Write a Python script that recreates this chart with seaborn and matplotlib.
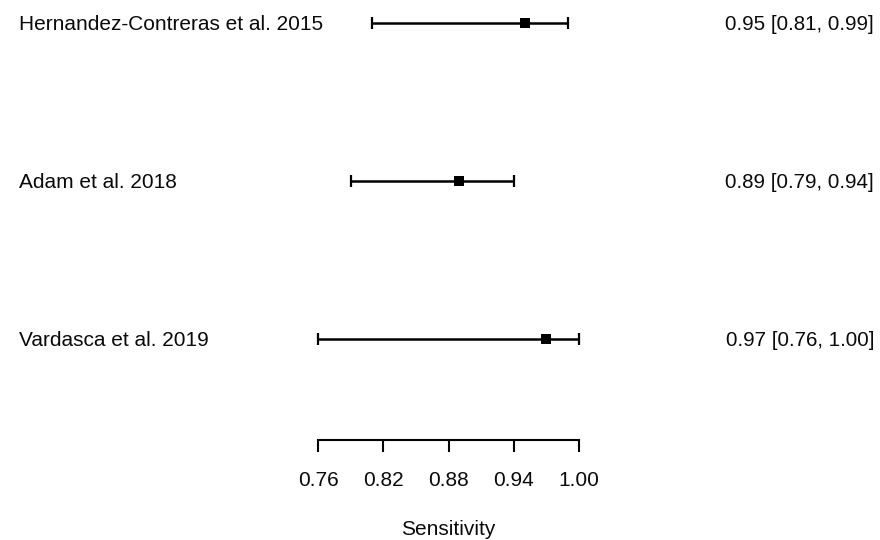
import matplotlib
matplotlib.use("Agg")
import matplotlib.pyplot as plt
import matplotlib.transforms as mtransforms
import seaborn as sns
import pandas as pd

# Study-level sensitivity estimates with 95% confidence intervals
studies = ["Hernandez-Contreras et al. 2015", "Adam et al. 2018", "Vardasca et al. 2019"]
estimate = [0.95, 0.89, 0.97]
ci_low = [0.81, 0.79, 0.76]
ci_high = [0.99, 0.94, 1.00]
x_ticks = [0.76, 0.82, 0.88, 0.94, 1.00]
x_label = "Sensitivity"

sns.set_theme(style="white")
plt.rcParams["font.family"] = ["Liberation Sans", "DejaVu Sans"]
plt.rcParams["text.color"] = "#0a0a0a"

W, H = 880, 540
fig = plt.figure(figsize=(W / 100, H / 100), dpi=100)
fig.patch.set_facecolor("white")

# axes area: x from 0.76 to 1.00, rows stacked top to bottom
x0, x1 = 318, 579
bottom_px = 100
ax = fig.add_axes([x0 / W, bottom_px / H, (x1 - x0) / W, (H - bottom_px) / H])

df = pd.DataFrame({
    "study": studies,
    "est": estimate,
    "lo": ci_low,
    "hi": ci_high,
})
n = len(df)
df["row"] = [n - i for i in range(n)]

ax.errorbar(
    df["est"], df["row"],
    xerr=[df["est"] - df["lo"], df["hi"] - df["est"]],
    fmt="none", ecolor="black", elinewidth=1.8, capsize=4.6, capthick=1.6,
    clip_on=False, zorder=2,
)
sns.scatterplot(
    data=df, x="est", y="row", marker="s", s=62, color="black",
    edgecolor="black", linewidth=0, ax=ax, zorder=3, clip_on=False, legend=False,
)

row_gap = 158.0
ax.set_xlim(0.76, 1.00)
ax.set_ylim(1 - 101 / row_gap, n + 23 / row_gap)
ax.set_yticks([])
ax.set_xticks(x_ticks)
ax.set_xticklabels([f"{t:.2f}" for t in x_ticks], fontsize=15)
ax.tick_params(axis="x", bottom=True, length=8.6, width=1.5, color="black",
               pad=14, labelcolor="#0a0a0a")
ax.set_xlabel(x_label, fontsize=15, labelpad=21, color="#0a0a0a")
ax.set_ylabel("")
for side in ["top", "right", "left"]:
    ax.spines[side].set_visible(False)
ax.spines["bottom"].set_linewidth(1.5)
ax.spines["bottom"].set_color("black")
ax.set_facecolor("white")

# study names on the left, estimate [CI] on the right
trans = mtransforms.blended_transform_factory(fig.transFigure, ax.transData)
for _, r in df.iterrows():
    fig.text(19 / W, r["row"], r["study"], transform=trans, ha="left",
             va="center_baseline", fontsize=15)
    fig.text(874 / W, r["row"], f"{r['est']:.2f} [{r['lo']:.2f}, {r['hi']:.2f}]",
             transform=trans, ha="right", va="center_baseline", fontsize=14.8)

fig.savefig("out.png", dpi=100, facecolor="white")
